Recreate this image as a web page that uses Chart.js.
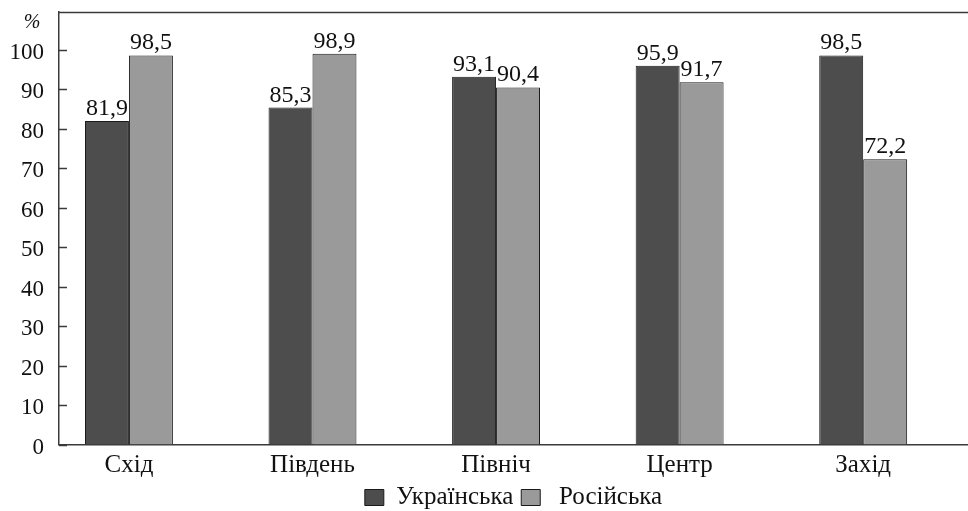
<!DOCTYPE html>
<html>
<head>
<meta charset="utf-8">
<script src="https://cdn.jsdelivr.net/npm/chart.js@4/dist/chart.umd.min.js"></script>
<style>
  html, body { margin: 0; padding: 0; background: #fff; }
  #wrap { width: 968px; height: 511px; position: relative; }
</style>
</head>
<body>
<div id="wrap"><canvas id="c"></canvas></div>
<script>
const categories = ['Схід', 'Південь', 'Північ', 'Центр', 'Захід'];
const ukrainian = [81.9, 85.3, 93.1, 95.9, 98.5];
const russian = [98.5, 98.9, 90.4, 91.7, 72.2];
const seriesNames = ['Українська', ' Російська'];
const yTicks = [0, 10, 20, 30, 40, 50, 60, 70, 80, 90, 100];
const unitLabel = '%';

const FONT = "'Liberation Serif', 'Times New Roman', serif";
const AXIS_COLOR = '#3a3a3a';

const fmt = v => v.toFixed(1).replace('.', ',');

const legendFitPlugin = {
  id: 'legendFit',
  beforeInit(chart) {
    const orig = chart.legend.fit;
    chart.legend.fit = function () {
      orig.call(this);
      this.height = 34;
    };
  }
};

const decorPlugin = {
  id: 'decor',
  afterDraw(chart) {
    const ctx = chart.ctx;
    const area = chart.chartArea;
    const ys = chart.scales.y;
    ctx.save();
    // top border
    ctx.strokeStyle = AXIS_COLOR;
    ctx.lineWidth = 1.5;
    ctx.beginPath();
    ctx.moveTo(area.left, area.top + 0.5);
    ctx.lineTo(chart.width, area.top + 0.5);
    ctx.stroke();
    // inward y ticks
    ys.ticks.forEach(t => {
      const py = Math.round(ys.getPixelForValue(t.value)) + 0.5;
      ctx.beginPath();
      ctx.moveTo(area.left, py);
      ctx.lineTo(area.left + 8, py);
      ctx.stroke();
    });
    // unit label
    ctx.fillStyle = '#111';
    ctx.font = "italic 20px " + FONT;
    ctx.textAlign = 'center';
    ctx.textBaseline = 'middle';
    ctx.fillText(unitLabel, 32, 23);
    // value labels
    ctx.font = "24px " + FONT;
    ctx.textBaseline = 'alphabetic';
    chart.data.datasets.forEach((ds, di) => {
      const meta = chart.getDatasetMeta(di);
      meta.data.forEach((bar, i) => {
        ctx.fillText(fmt(ds.data[i].y), bar.x, bar.y - 6);
      });
    });
    ctx.restore();
  }
};

const toPoints = arr => arr.map((v, i) => ({ x: i, y: v }));

new Chart(document.getElementById('c'), {
  type: 'bar',
  data: {
    datasets: [
      {
        label: seriesNames[0],
        data: toPoints(ukrainian),
        backgroundColor: '#4d4d4d',
        borderColor: '#1a1a1a',
        borderWidth: 1
      },
      {
        label: seriesNames[1],
        data: toPoints(russian),
        backgroundColor: '#9a9a9a',
        borderColor: '#1a1a1a',
        borderWidth: 1
      }
    ]
  },
  options: {
    responsive: true,
    maintainAspectRatio: false,
    animation: false,
    layout: { padding: { top: 12, left: 0, right: 0, bottom: 0 } },
    datasets: { bar: { categoryPercentage: 0.479, barPercentage: 1.0 } },
    scales: {
      x: {
        type: 'linear',
        min: -0.381,
        max: 4.571,
        offset: false,
        grid: { display: false, drawTicks: false },
        border: { display: true, color: AXIS_COLOR, width: 1.5 },
        afterBuildTicks: s => { s.ticks = categories.map((c, i) => ({ value: i })); },
        afterFit: s => { s.height = 32.5; s.paddingLeft = 0; s.paddingRight = 0; },
        ticks: {
          padding: 6,
          color: '#111',
          font: { family: FONT, size: 25 },
          callback: v => categories[v] ?? '',
          maxRotation: 0,
          autoSkip: false
        }
      },
      y: {
        min: 0,
        max: 109.5,
        grid: { display: false, drawTicks: false },
        border: { display: true, color: AXIS_COLOR, width: 1.5 },
        afterBuildTicks: s => { s.ticks = yTicks.map(v => ({ value: v })); },
        afterFit: s => { s.width = 59; s.paddingTop = 0; s.paddingBottom = 0; },
        ticks: {
          padding: 15,
          labelOffset: 3,
          color: '#111',
          font: { family: FONT, size: 23 }
        }
      }
    },
    plugins: {
      legend: {
        position: 'bottom',
        fullSize: false,
        labels: {
          boxWidth: 19,
          boxHeight: 16,
          padding: 8,
          color: '#111',
          font: { family: FONT, size: 25 }
        }
      },
      tooltip: { enabled: false }
    }
  },
  plugins: [legendFitPlugin, decorPlugin]
});
</script>
</body>
</html>
